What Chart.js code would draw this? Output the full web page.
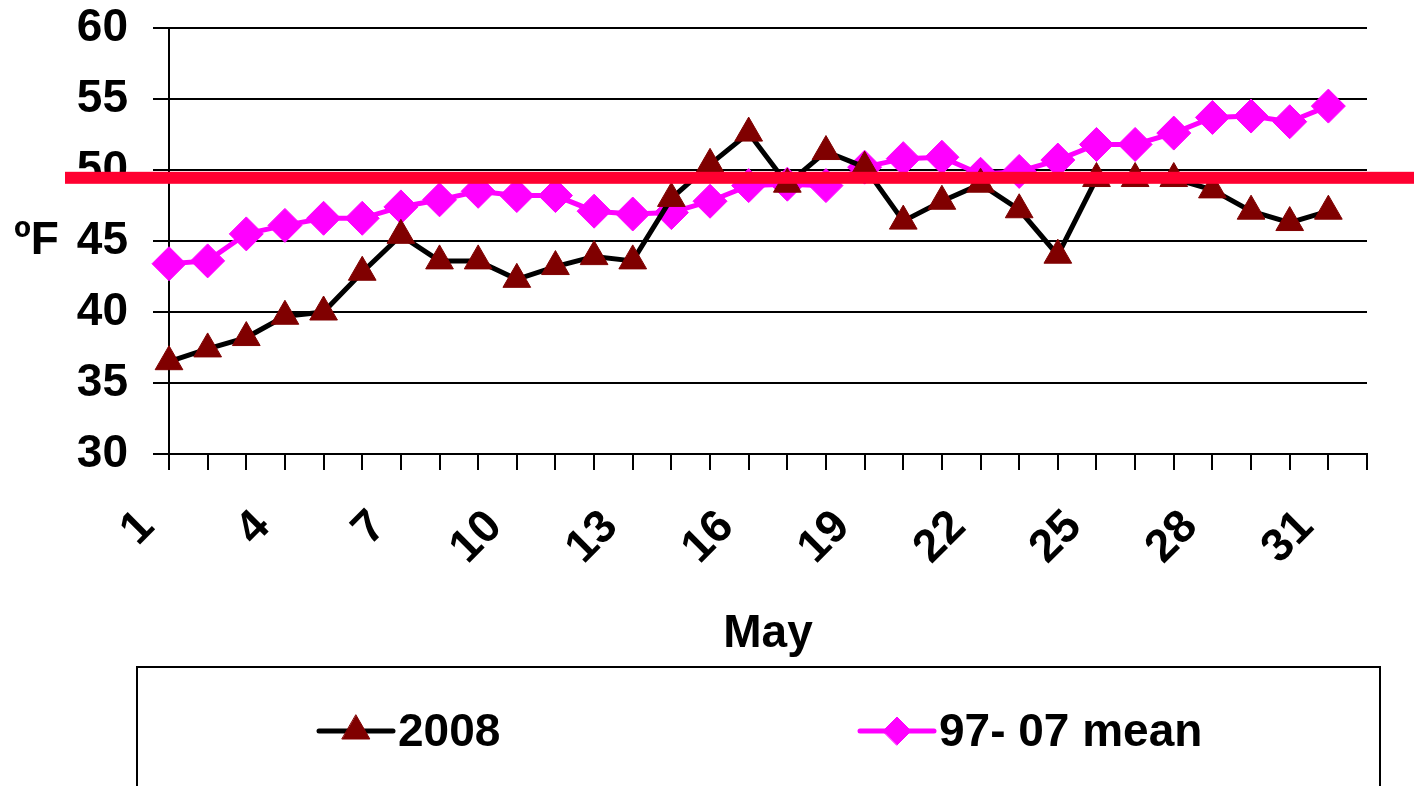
<!DOCTYPE html>
<html>
<head>
<meta charset="utf-8">
<title>May temperatures</title>
<script src="https://cdn.jsdelivr.net/npm/chart.js@4.4.1/dist/chart.umd.min.js"></script>
<style>
  html, body { margin: 0; padding: 0; background: #fff; }
  #wrap { width: 1414px; height: 786px; }
</style>
</head>
<body>
<div id="wrap"><canvas id="tempChart" width="1414" height="786"></canvas></div>
<script>
// Days of May (axis categories)
const days = ['1', '2', '3', '4', '5', '6', '7', '8', '9', '10', '11', '12', '13', '14', '15', '16',
  '17', '18', '19', '20', '21', '22', '23', '24', '25', '26', '27', '28', '29', '30', '31', '32'];

// Daily temperatures (ºF)
const temps2008 = [36.5, 37.4, 38.2, 39.7, 40.0, 42.8, 45.4, 43.6, 43.6, 42.3, 43.2, 43.9, 43.6, 48.0, 50.4, 52.6,
  49.0, 51.3, 50.2, 46.4, 47.8, 49.0, 47.2, 44.0, 49.4, 49.4, 49.4, 48.6, 47.1, 46.3, 47.1];
const tempsMean = [43.4, 43.6, 45.5, 46.1, 46.6, 46.6, 47.4, 47.9, 48.5, 48.2, 48.2, 47.1, 46.9, 47.0, 47.8, 48.9,
  49.0, 48.9, 50.2, 50.8, 50.9, 49.7, 49.9, 50.7, 51.8, 51.8, 52.6, 53.7, 53.8, 53.4, 54.5];

const seriesNames = ['2008', '97- 07 mean'];
const yTicks = [30, 35, 40, 45, 50, 55, 60];
const markerLine = 49.45; // red reference bar drawn across the chart

const font = { family: '"Liberation Sans", Arial, sans-serif', size: 46, weight: 'bold' };
const fontStr = 'bold 46px "Liberation Sans", Arial, sans-serif';

// red bar + unit label + boxed legend
const extrasPlugin = {
  id: 'extras',
  afterDraw(chart) {
    const ctx = chart.ctx;
    const y = chart.scales.y;
    const area = chart.chartArea;
    ctx.save();

    // unit label, horizontal
    ctx.fillStyle = '#000';
    ctx.font = fontStr;
    ctx.textAlign = 'left';
    ctx.textBaseline = 'middle';
    ctx.fillText('ºF', 14, (area.top + area.bottom) / 2);

    // red bar
    const yp = y.getPixelForValue(markerLine);
    ctx.fillStyle = '#FF0030';
    ctx.fillRect(65, yp - 6, chart.width - 65, 12);

    // legend box
    ctx.strokeStyle = '#000';
    ctx.lineWidth = 2;
    ctx.strokeRect(137, 667, 1243, 140);

    const starts = [319, 860];
    const ly = 731;
    chart.data.datasets.forEach((ds, i) => {
      const x0 = starts[i];
      ctx.strokeStyle = ds.borderColor;
      ctx.lineWidth = ds.borderWidth;
      ctx.lineCap = 'round';
      ctx.beginPath();
      ctx.moveTo(x0, ly);
      ctx.lineTo(x0 + 74, ly);
      ctx.stroke();

      ctx.fillStyle = ds.pointBackgroundColor;
      ctx.strokeStyle = ds.pointBorderColor;
      ctx.lineWidth = 1;
      Chart.helpers.drawPoint(ctx, {
        pointStyle: ds.pointStyle,
        radius: ds.legendRadius,
        borderWidth: 1,
        rotation: 0
      }, x0 + 37, ly);

      ctx.fillStyle = '#000';
      ctx.font = fontStr;
      ctx.textAlign = 'left';
      ctx.textBaseline = 'middle';
      ctx.fillText(ds.label, x0 + 79, ly + 2);
    });
    ctx.restore();
  }
};

new Chart(document.getElementById('tempChart'), {
  type: 'line',
  data: {
    labels: days,
    datasets: [
      {
        label: seriesNames[0],
        data: temps2008,
        borderColor: '#000000',
        borderWidth: 5,
        pointStyle: 'triangle',
        pointRadius: 16,
        legendRadius: 16,
        pointBackgroundColor: '#800000',
        pointBorderColor: '#800000',
        pointBorderWidth: 1,
        tension: 0
      },
      {
        label: seriesNames[1],
        data: tempsMean,
        borderColor: '#FF00FF',
        borderWidth: 5,
        pointStyle: 'rectRot',
        pointRadius: 17,
        legendRadius: 14,
        pointBackgroundColor: '#FF00FF',
        pointBorderColor: '#FF00FF',
        pointBorderWidth: 1,
        tension: 0
      }
    ]
  },
  options: {
    responsive: false,
    animation: false,
    devicePixelRatio: 1,
    layout: { padding: { top: 28, right: 47, bottom: 124, left: 0 } },
    plugins: {
      legend: { display: false },
      tooltip: { enabled: false }
    },
    scales: {
      x: {
        grid: { drawOnChartArea: false, drawTicks: true, tickLength: 16, color: '#000', lineWidth: 2 },
        border: { color: '#000', width: 2 },
        ticks: {
          autoSkip: false,
          minRotation: 45,
          maxRotation: 45,
          labelOffset: -22,
          padding: 30,
          color: '#000',
          font: font,
          callback: (v, i) => (i % 3 === 0 ? days[i] : '')
        },
        title: { display: true, text: 'May', color: '#000', font: font, padding: { top: 0, bottom: 0 } },
        afterFit: scale => {
          scale.height = 208;
          scale.paddingLeft = 0;
          scale.paddingRight = 0;
        }
      },
      y: {
        min: yTicks[0],
        max: yTicks[yTicks.length - 1],
        afterBuildTicks: scale => { scale.ticks = yTicks.map(v => ({ value: v })); },
        grid: { color: '#000', lineWidth: 2, tickLength: 16 },
        border: { color: '#000', width: 2 },
        ticks: { padding: 25, color: '#000', font: font },
        afterFit: scale => {
          scale.width = 169;
          scale.paddingTop = 0;
          scale.paddingBottom = 0;
        }
      }
    }
  },
  plugins: [extrasPlugin]
});
</script>
</body>
</html>
